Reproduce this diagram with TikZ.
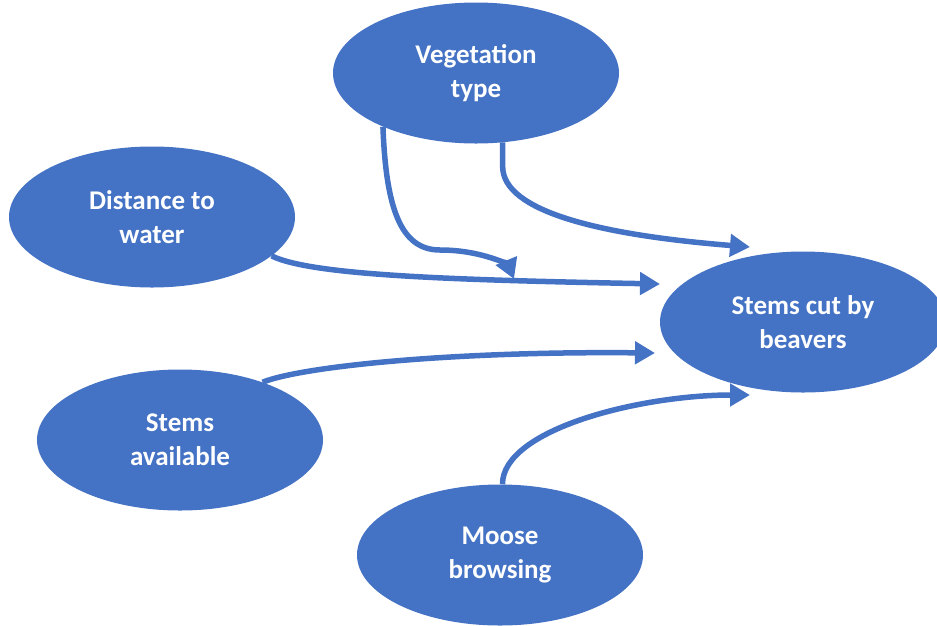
\documentclass[tikz,border=0pt]{standalone}
\usepackage{fontspec}
\setmainfont{Carlito}
\usetikzlibrary{arrows.meta,shapes.geometric,calc}
\definecolor{obl}{HTML}{4472C4}
\tikzset{
  blob/.style={ellipse,fill=obl,draw=none,minimum width=286pt,minimum height=141pt,inner sep=0pt,
    text=white,align=center,font=\fontsize{27}{34}\selectfont\bfseries},
  link/.style={draw=obl,line width=5.5pt,-{Triangle[length=20pt,width=22pt]}}
}
\begin{document}
\begin{tikzpicture}[x=1pt,y=-1pt]
\useasboundingbox (0,0) rectangle (937,625);
\node[blob] (veg) at (476,73) {Vegetation\\type};
\node[blob] (dist) at (152,217) {Distance to\\water};
\node[blob] (beav) at (803,322) {Stems cut by\\beavers};
\node[blob] (avail) at (180,440) {Stems\\available};
\node[blob] (moose) at (500,555) {Moose\\browsing};
\coordinate (t1) at ($(beav)+(-53,-75)$);
\coordinate (t3) at ($(beav)+(-143,-38)$);
\coordinate (t4) at ($(beav)+(-148,31)$);
\coordinate (t5) at ($(beav)+(-53,73)$);
\coordinate (t2) at (514,279);
\draw[link] (dist.-18) .. controls +(40,20) and +(-200,-4) .. (t3);
\draw[link] (veg.-69) -- ++(0,24) .. controls +(0,45) and +(-150,-12) .. (t1);
\draw[link] (veg.-150.6) .. controls +(3,80) and +(-40,0) .. (440,250) .. controls +(45,0) and +(-5,-12) .. (t2);
\draw[link] (avail.35) .. controls +(40,-16) and +(-200,-2) .. (t4);
\draw[link] (moose.88) .. controls +(0,-55) and +(-110,0) .. (t5);
\end{tikzpicture}
\end{document}
